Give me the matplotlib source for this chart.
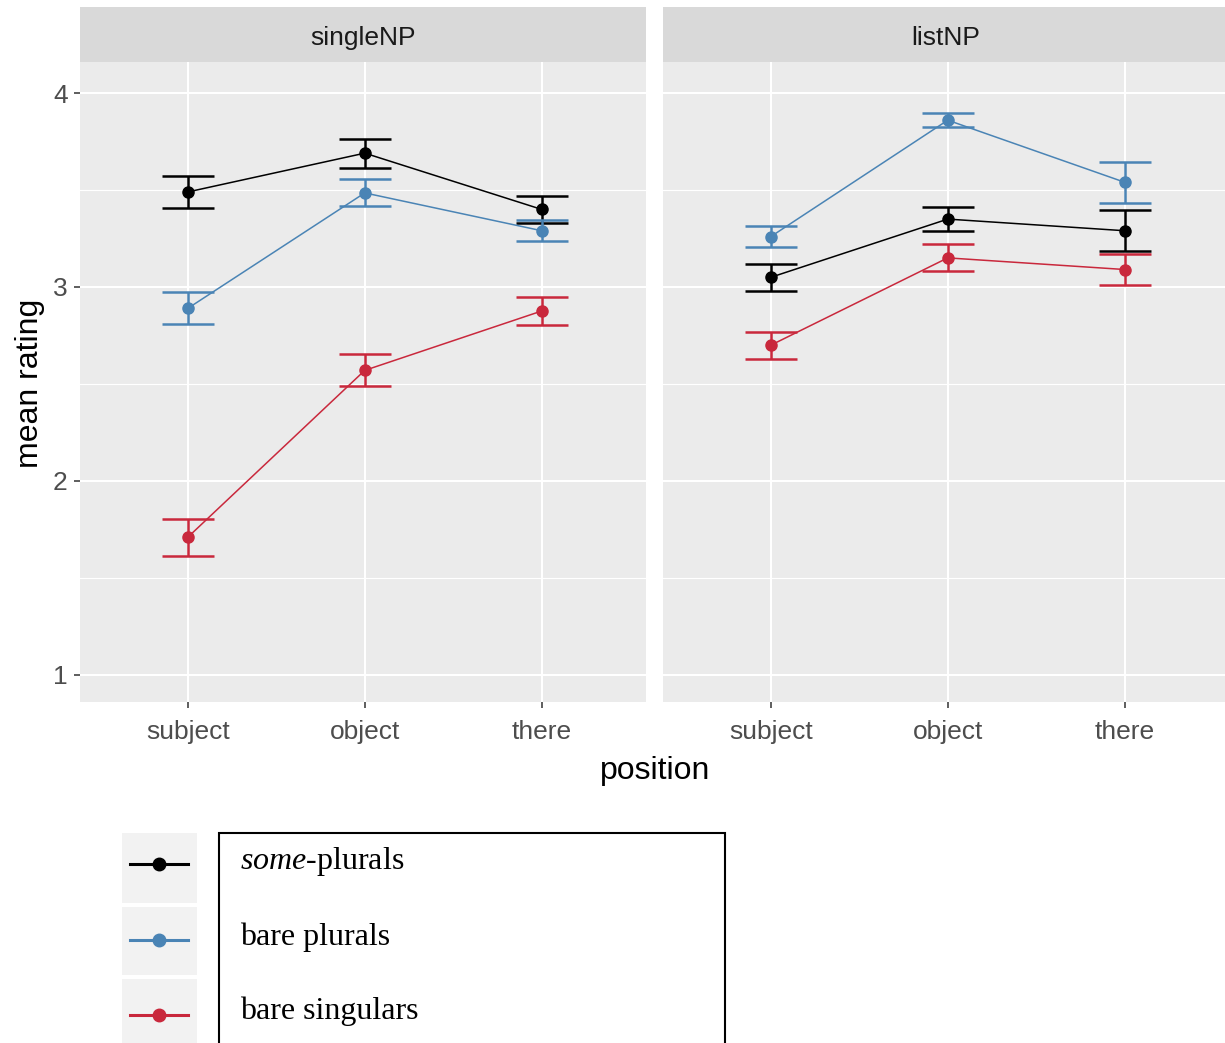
import matplotlib
matplotlib.use("Agg")
import matplotlib.pyplot as plt
import numpy as np
from matplotlib.lines import Line2D
from matplotlib.patches import Rectangle

plt.rcParams['font.family'] = ['Liberation Sans', 'DejaVu Sans']
plt.rcParams['mathtext.fontset'] = 'custom'
plt.rcParams['mathtext.rm'] = 'Liberation Serif'
plt.rcParams['mathtext.it'] = 'Liberation Serif:italic'

# ---- data ----
positions = ['subject', 'object', 'there']
panels = ['singleNP', 'listNP']
series_labels = [r'$\mathit{some}$-plurals', 'bare plurals', 'bare singulars']
series_colors = ['#000000', '#4a84b5', '#c9283c']

single_some = [3.49, 3.69, 3.40]
single_some_err = [0.082, 0.075, 0.07]
single_bare_pl = [2.89, 3.485, 3.29]
single_bare_pl_err = [0.082, 0.07, 0.055]
single_bare_sg = [1.71, 2.57, 2.876]
single_bare_sg_err = [0.095, 0.082, 0.07]

list_some = [3.05, 3.35, 3.29]
list_some_err = [0.07, 0.06, 0.105]
list_bare_pl = [3.26, 3.86, 3.54]
list_bare_pl_err = [0.055, 0.035, 0.105]
list_bare_sg = [2.70, 3.15, 3.09]
list_bare_sg_err = [0.07, 0.07, 0.08]

panel_data = {
    'singleNP': [(single_some, single_some_err), (single_bare_pl, single_bare_pl_err),
                 (single_bare_sg, single_bare_sg_err)],
    'listNP': [(list_some, list_some_err), (list_bare_pl, list_bare_pl_err),
               (list_bare_sg, list_bare_sg_err)],
}

y_ticks = [1, 2, 3, 4]
y_minor = [1.5, 2.5, 3.5]

# ---- figure ----
W, H = 1225, 1043
fig = plt.figure(figsize=(W / 100, H / 100), dpi=100)


def fx(px):
    return px / W


def fy(py):
    return 1 - py / H


panel_left = [80, 663]
panel_w = 566
top, bottom = 62, 702
strip_top = 7

axes = []
for i, name in enumerate(panels):
    ax = fig.add_axes([fx(panel_left[i]), fy(bottom), fx(panel_w), (bottom - top) / H],
                      sharey=axes[0] if axes else None)
    axes.append(ax)
    ax.set_facecolor('#ebebeb')
    for s in ax.spines.values():
        s.set_visible(False)
    x = np.arange(len(positions))
    for (vals, errs), col in zip(panel_data[name], series_colors):
        ax.plot(x, vals, '-', color=col, lw=1.1, zorder=3)
        ax.errorbar(x, vals, yerr=errs, fmt='none', ecolor=col, elinewidth=1.8,
                    capsize=19, capthick=1.8, zorder=3)
        ax.plot(x, vals, 'o', color=col, ms=8, zorder=4)
    ax.set_xticks(x)
    ax.set_xticklabels(positions)
    ax.set_xlim(-0.61, 2.59)
    ax.set_ylim(0.86, 4.16)
    ax.set_yticks(y_ticks)
    ax.set_yticks(y_minor, minor=True)
    ax.grid(which='major', color='white', lw=1.5)
    ax.grid(which='minor', axis='y', color='white', lw=0.8)
    ax.set_axisbelow(True)
    ax.tick_params(which='major', length=4, width=1.1, color='#333333',
                   labelcolor='#4d4d4d', labelsize=19, pad=5)
    ax.tick_params(which='minor', length=0)
    ax.tick_params(axis='x', pad=9)
    if i > 0:
        ax.tick_params(axis='y', left=False, labelleft=False)

    # strip
    sax = fig.add_axes([fx(panel_left[i]), fy(top), fx(panel_w), (top - strip_top) / H])
    sax.set_facecolor('#d9d9d9')
    sax.set_xticks([])
    sax.set_yticks([])
    for s in sax.spines.values():
        s.set_visible(False)
    sax.text(0.5, 0.44, name, ha='center', va='center', fontsize=19, color='#1a1a1a',
             transform=sax.transAxes)

# axis titles
fig.text(fx(655), fy(771), 'position', ha='center', va='center', fontsize=23)
fig.text(fx(30), fy(383), 'mean rating', ha='center', va='center', fontsize=23, rotation=90)

# ---- legend ----
key_boxes = [(833, 903), (907, 975), (979, 1050)]
key_y = [864, 940, 1015]
label_y = [862, 937, 1011]
for (y0, y1), ky, ly, col, lab in zip(key_boxes, key_y, label_y, series_colors, series_labels):
    fig.add_artist(Rectangle((fx(122), fy(y1)), fx(75), (y1 - y0) / H,
                             transform=fig.transFigure, facecolor='#f2f2f2',
                             edgecolor='none'))
    fig.add_artist(Line2D([fx(130), fx(188)], [fy(ky), fy(ky)], transform=fig.transFigure,
                          color=col, lw=2.2))
    fig.add_artist(Line2D([fx(159)], [fy(ky)], transform=fig.transFigure, color=col,
                          marker='o', ms=9, lw=0))
    fig.text(fx(240), fy(ly), lab, ha='left', va='center', fontsize=23,
             family='Liberation Serif', color='black')

fig.add_artist(Rectangle((fx(219), fy(1060)), fx(725 - 219), (1060 - 833) / H,
                         transform=fig.transFigure, facecolor='none',
                         edgecolor='black', lw=1.5))

fig.savefig('out.png', dpi=100)
